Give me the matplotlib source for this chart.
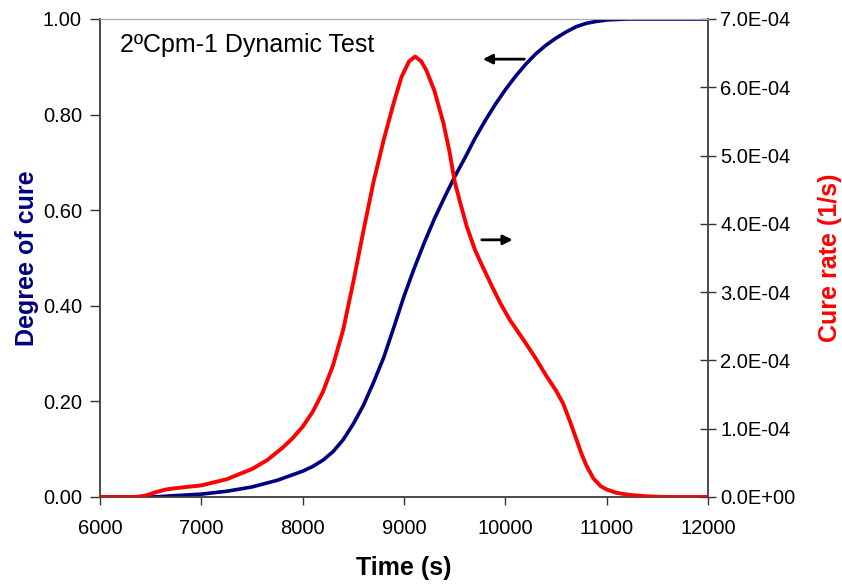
import matplotlib.pyplot as plt

plt.rcParams['font.family'] = ['Liberation Sans', 'DejaVu Sans']

# Degree of cure (left axis)
time_cure = [6000, 6250, 6500, 6600, 6750, 7000, 7250, 7500, 7750, 8000, 8100,
             8200, 8300, 8400, 8500, 8600, 8700, 8800, 8900, 9000, 9100, 9200,
             9300, 9400, 9500, 9600, 9700, 9800, 9900, 10000, 10100, 10200,
             10300, 10400, 10500, 10600, 10700, 10800, 10900, 11000, 11100,
             11200, 11500, 12000]
degree_cure = [0, 0, 0, 0.001, 0.003, 0.006, 0.012, 0.021, 0.035, 0.054, 0.064,
               0.077, 0.095, 0.120, 0.153, 0.192, 0.240, 0.292, 0.355, 0.420,
               0.478, 0.532, 0.582, 0.627, 0.670, 0.709, 0.750, 0.787, 0.821,
               0.852, 0.880, 0.905, 0.927, 0.945, 0.960, 0.973, 0.984, 0.991,
               0.995, 0.998, 0.999, 1.0, 1.0, 1.0]

# Cure rate (right axis), in 1e-4 1/s
time_rate = [6000, 6350, 6450, 6550, 6650, 6750, 7000, 7250, 7500, 7650, 7800,
             7900, 8000, 8100, 8200, 8300, 8400, 8500, 8600, 8700, 8800, 8900,
             8975, 9050, 9110, 9170, 9220, 9300, 9390, 9450, 9500, 9560, 9620,
             9700, 9780, 9870, 9950, 10050, 10180, 10300, 10410, 10500, 10570,
             10640, 10700, 10750, 10800, 10870, 10940, 11000, 11100, 11230,
             11400, 11600, 12000]
cure_rate_e4 = [0, 0, 0.02, 0.07, 0.11, 0.13, 0.17, 0.26, 0.41, 0.54, 0.72,
                0.86, 1.03, 1.25, 1.54, 1.93, 2.45, 3.15, 3.90, 4.62, 5.23, 5.78,
                6.15, 6.38, 6.45, 6.38, 6.25, 5.95, 5.47, 5.05, 4.62, 4.28, 3.96,
                3.62, 3.36, 3.08, 2.84, 2.58, 2.30, 2.03, 1.76, 1.56, 1.37,
                1.10, 0.85, 0.64, 0.46, 0.27, 0.16, 0.11, 0.06, 0.03,
                0.01, 0.0, 0.0]
cure_rate = [v * 1e-4 for v in cure_rate_e4]

left_ticks = [0.0, 0.2, 0.4, 0.6, 0.8, 1.0]
right_ticks = [i * 1e-4 for i in range(8)]
x_ticks = [6000, 7000, 8000, 9000, 10000, 11000, 12000]

fig = plt.figure(figsize=(8.42, 5.84), dpi=100)
ax1 = fig.add_axes([100 / 842, 87 / 584, 608 / 842, 478 / 584])
ax2 = ax1.twinx()

ax1.plot(time_cure, degree_cure, color='#000080', lw=2.6, zorder=3,
         solid_joinstyle='round')
ax2.plot(time_rate, cure_rate, color='#ff0000', lw=2.8, zorder=3,
         solid_joinstyle='round')

ax1.set_xlim(6000, 12000)
ax1.set_ylim(0, 1.0)
ax2.set_ylim(0, 7e-4)

ax1.set_xticks(x_ticks)
ax1.set_xticklabels([str(t) for t in x_ticks])
ax1.set_yticks(left_ticks)
ax1.set_yticklabels(['%.2f' % t for t in left_ticks])
ax2.set_yticks(right_ticks)
ax2.set_yticklabels(['%.1fE%s' % (t / 1e-4 if t else 0, '-04' if t else '+00')
                     for t in right_ticks])

ax1.tick_params(axis='x', direction='out', length=6, width=1, labelsize=14.5,
                pad=10, colors='#333333', labelcolor='black')
ax1.tick_params(axis='y', direction='out', length=7, width=1, labelsize=14.5,
                pad=6, colors='#333333', labelcolor='black')
ax2.tick_params(axis='y', direction='inout', length=12, width=1, labelsize=14.5,
                pad=3, colors='#333333', labelcolor='black')

for ax in (ax1, ax2):
    for s in ('left', 'bottom', 'right'):
        ax.spines[s].set_color('#444444')
        ax.spines[s].set_linewidth(1.1)
    ax.spines['top'].set_color('#aaaaaa')
    ax.spines['top'].set_linewidth(0.8)

ax1.set_xlabel('Time (s)', fontsize=18, fontweight='bold', labelpad=13)
ax1.set_ylabel('Degree of cure', fontsize=18, fontweight='bold',
               color='#000080', labelpad=3)
ax2.set_ylabel('Cure rate (1/s)', fontsize=18, fontweight='bold',
               color='#ff0000', rotation=90, labelpad=16)

ax1.text(6200, 0.945, '2ºCpm-1 Dynamic Test', fontsize=18, va='center', ha='left')

arrow = dict(arrowstyle='-|>', color='black', lw=2, mutation_scale=14)
ax1.annotate('', xy=(9750, 0.916), xytext=(10215, 0.916), arrowprops=arrow)
ax1.annotate('', xy=(10100, 0.538), xytext=(9740, 0.538), arrowprops=arrow)

fig.savefig('out.png', dpi=100)
